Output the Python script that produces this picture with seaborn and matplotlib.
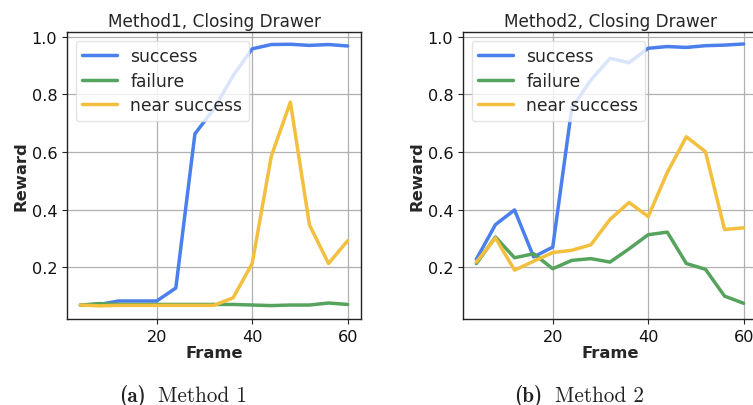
import numpy as np
import pandas as pd
import matplotlib
matplotlib.use("Agg")
import matplotlib.pyplot as plt
import seaborn as sns

frames = [4, 8, 12, 16, 20, 24, 28, 32, 36, 40, 44, 48, 52, 56, 60]

m1_success = [0.069, 0.071, 0.083, 0.083, 0.083, 0.128, 0.663, 0.75, 0.865, 0.958, 0.973, 0.974, 0.970, 0.973, 0.968]
m1_failure = [0.069, 0.074, 0.071, 0.071, 0.071, 0.071, 0.071, 0.071, 0.071, 0.069, 0.067, 0.069, 0.069, 0.076, 0.071]
m1_near = [0.069, 0.066, 0.068, 0.068, 0.068, 0.068, 0.068, 0.068, 0.094, 0.213, 0.585, 0.773, 0.347, 0.213, 0.292]

m2_success = [0.228, 0.348, 0.399, 0.236, 0.270, 0.753, 0.850, 0.925, 0.910, 0.960, 0.966, 0.963, 0.969, 0.971, 0.975]
m2_failure = [0.213, 0.305, 0.233, 0.247, 0.195, 0.224, 0.230, 0.218, 0.264, 0.313, 0.322, 0.213, 0.193, 0.100, 0.075]
m2_near = [0.218, 0.302, 0.190, 0.221, 0.251, 0.259, 0.278, 0.366, 0.425, 0.376, 0.529, 0.653, 0.601, 0.331, 0.337]

series_names = ["success", "failure", "near success"]
titles = ["Method1, Closing Drawer", "Method2, Closing Drawer"]
caption_tags = ["(a)", "(b)"]
caption_texts = ["Method 1", "Method 2"]
colors = ["#4a7fec", "#55a35c", "#f3bf3e"]

sns.set_style("ticks")
plt.rcParams["font.family"] = ["DejaVu Sans"]

def make_df(s, f, n):
    rows = []
    for name, vals in zip(series_names, [s, f, n]):
        for fr, v in zip(frames, vals):
            rows.append({"Frame": fr, "Reward": v, "series": name})
    return pd.DataFrame(rows)

dfs = [make_df(m1_success, m1_failure, m1_near), make_df(m2_success, m2_failure, m2_near)]

W, H = 753, 406
fig = plt.figure(figsize=(W / 100, H / 100), dpi=100)
axes_px = [(67, 33, 294, 287), (463, 33, 294, 287)]
tag_x = [119.5, 514.5]
text_x = [157.5, 555]

for i, (df, (l, t, w, h)) in enumerate(zip(dfs, axes_px)):
    ax = fig.add_axes([l / W, 1 - (t + h) / H, w / W, h / H])
    sns.lineplot(data=df, x="Frame", y="Reward", hue="series", palette=colors,
                 hue_order=series_names, linewidth=2.5, ax=ax)
    ax.grid(True, color="#b0b0b0", linewidth=0.9)
    ax.set_axisbelow(True)
    ax.set_xticks([20, 40, 60])
    ax.set_yticks([0.2, 0.4, 0.6, 0.8, 1.0])
    ax.set_xlim(1.2, 62.8)
    ax.set_ylim(0.0205, 1.0165)
    ax.tick_params(labelsize=11.6, length=3.5, width=0.8, colors="#222222", labelcolor="#111111")
    for sp in ax.spines.values():
        sp.set_visible(True)
        sp.set_color("#222222")
        sp.set_linewidth(1.0)
    ax.set_xlabel("Frame", fontsize=11.8, fontweight="bold", labelpad=1)
    ax.set_ylabel("Reward", fontsize=11.8, fontweight="bold", labelpad=2)
    ax.set_title(titles[i], fontsize=12.2, pad=4)
    leg = ax.legend(loc="upper left", fontsize=12.3, framealpha=0.8, title=None,
                    labelspacing=0.38)
    leg.get_frame().set_edgecolor("#dddddd")
    fig.text(tag_x[i] / W, 1 - 402 / H, caption_tags[i], ha="left", va="baseline",
             fontsize=15.3, family="cmb10", color="#222222")
    fig.text(text_x[i] / W, 1 - 402 / H, caption_texts[i], ha="left", va="baseline",
             fontsize=15.3, family="cmr10", color="#222222")

fig.savefig("out.png", dpi=100)
